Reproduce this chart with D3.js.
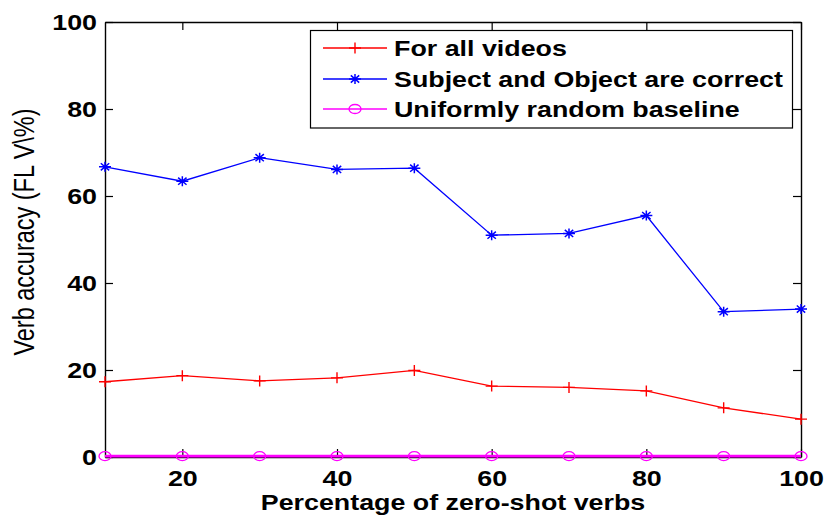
<!DOCTYPE html>
<html><head><meta charset="utf-8">
<script src="https://cdn.jsdelivr.net/npm/d3@7/dist/d3.min.js"></script>
<style>body{margin:0;background:#fff}svg{display:block}</style>
</head><body>
<svg id="c" width="827" height="516"></svg>
<script>
const xValues = [10, 20, 30, 40, 50, 60, 70, 80, 90, 100];
const allVideos = [17.3, 18.7, 17.5, 18.2, 19.9, 16.3, 16.0, 15.2, 11.3, 8.7];
const subjObjCorrect = [66.7, 63.4, 68.8, 66.1, 66.4, 51.0, 51.4, 55.5, 33.4, 34.0];
const randomBaseline = [0.2, 0.2, 0.2, 0.2, 0.2, 0.2, 0.2, 0.2, 0.2, 0.2];
const xTicks = [20, 40, 60, 80, 100];
const yTicks = [0, 20, 40, 60, 80, 100];
const seriesNames = ["For all videos", "Subject and Object are correct", "Uniformly random baseline"];
const xTitle = "Percentage of zero-shot verbs";
const yTitle = "Verb accuracy (FL V\\%)";

const SX = 1.22;
const svg = d3.select("#c");
const L = 105, R = 801, T = 22, B = 457;
const x = d3.scaleLinear().domain([10, 100]).range([L, R]);
const y = d3.scaleLinear().domain([0, 100]).range([B, T]);
const FONT = "'Liberation Sans', Arial, sans-serif";

function stretchTexts(sel) {
  sel.selectAll("text").each(function () {
    const t = d3.select(this);
    const tx = +t.attr("x") || 0, ty = +t.attr("y") || 0;
    t.attr("x", 0).attr("y", 0).attr("transform", `translate(${tx},${ty}) scale(${SX},1)`);
  });
}

// axes
const gB = svg.append("g").attr("transform", `translate(0,${B})`)
  .call(d3.axisBottom(x).tickValues(xTicks).tickSizeInner(-8).tickSizeOuter(0).tickPadding(13));
const gL = svg.append("g").attr("transform", `translate(${L},0)`)
  .call(d3.axisLeft(y).tickValues(yTicks).tickSizeInner(-8).tickSizeOuter(0).tickPadding(8));
const gT = svg.append("g").attr("transform", `translate(0,${T})`)
  .call(d3.axisTop(x).tickValues(xTicks).tickSizeInner(-8).tickSizeOuter(0).tickFormat(""));
const gR = svg.append("g").attr("transform", `translate(${R},0)`)
  .call(d3.axisRight(y).tickValues(yTicks).tickSizeInner(-8).tickSizeOuter(0).tickFormat(""));
[gB, gL, gT, gR].forEach(g => {
  g.selectAll("path.domain").attr("stroke", "#000").attr("stroke-width", 1.4);
  g.selectAll(".tick line").attr("stroke", "#000").attr("stroke-width", 1.2);
  g.selectAll("text").attr("font-family", FONT).attr("font-size", 22).attr("font-weight", "bold").attr("fill", "#000");
});
stretchTexts(gB); stretchTexts(gL);

// series
const series = [
  { vals: allVideos, color: "#ff0000", w: 1.3, marker: "plus" },
  { vals: subjObjCorrect, color: "#0000ff", w: 1.3, marker: "star" },
  { vals: randomBaseline, color: "#ff00ff", w: 2.6, marker: "circle" }
];
const line = d3.line().x((d, i) => x(xValues[i])).y(d => y(d));

function drawMarker(g, kind, color, cx, cy) {
  if (kind === "plus") {
    g.append("path").attr("d", `M${cx - 6},${cy}H${cx + 6}M${cx},${cy - 5.5}V${cy + 5.5}`)
      .attr("stroke", color).attr("stroke-width", 1.4).attr("fill", "none");
  } else if (kind === "star") {
    const a = 6, b = 4.2, c = 5;
    g.append("path").attr("d",
      `M${cx - a},${cy}H${cx + a}M${cx},${cy - c}V${cy + c}M${cx - b},${cy - b * 0.85}L${cx + b},${cy + b * 0.85}M${cx - b},${cy + b * 0.85}L${cx + b},${cy - b * 0.85}`)
      .attr("stroke", color).attr("stroke-width", 1.5).attr("fill", "none");
  } else {
    g.append("ellipse").attr("cx", cx).attr("cy", cy).attr("rx", 6).attr("ry", 4.5)
      .attr("stroke", color).attr("stroke-width", 1.3).attr("fill", "none");
  }
}

series.forEach(s => {
  const g = svg.append("g");
  g.append("path").attr("d", line(s.vals)).attr("fill", "none").attr("stroke", s.color).attr("stroke-width", s.w);
  s.vals.forEach((v, i) => drawMarker(g, s.marker, s.color, x(xValues[i]), y(v)));
});

// titles
svg.append("text").attr("font-family", FONT).attr("font-size", 22).attr("font-weight", "bold")
  .attr("text-anchor", "middle").attr("transform", `translate(${(L + R) / 2},510) scale(${SX},1)`).text(xTitle);
svg.append("text").attr("font-family", FONT).attr("font-size", 23.5)
  .attr("text-anchor", "middle").attr("transform", `translate(34,232) scale(${SX},1) rotate(-90)`).text(yTitle);

// legend
const lg = svg.append("g");
lg.append("rect").attr("x", 310.5).attr("y", 30.5).attr("width", 482).attr("height", 97.5)
  .attr("fill", "#fff").attr("stroke", "#000").attr("stroke-width", 1.2);
const rowsY = [48, 79, 109];
series.forEach((s, i) => {
  const yy = rowsY[i];
  lg.append("line").attr("x1", 323).attr("x2", 387).attr("y1", yy).attr("y2", yy)
    .attr("stroke", s.color).attr("stroke-width", s.marker === "circle" ? 1.6 : 1.3);
  drawMarker(lg, s.marker, s.color, 355, yy);
  lg.append("text").attr("font-family", FONT).attr("font-size", 22).attr("font-weight", "bold")
    .attr("transform", `translate(394,${yy + 8}) scale(${SX},1)`).text(seriesNames[i]);
});
</script>
</body></html>
